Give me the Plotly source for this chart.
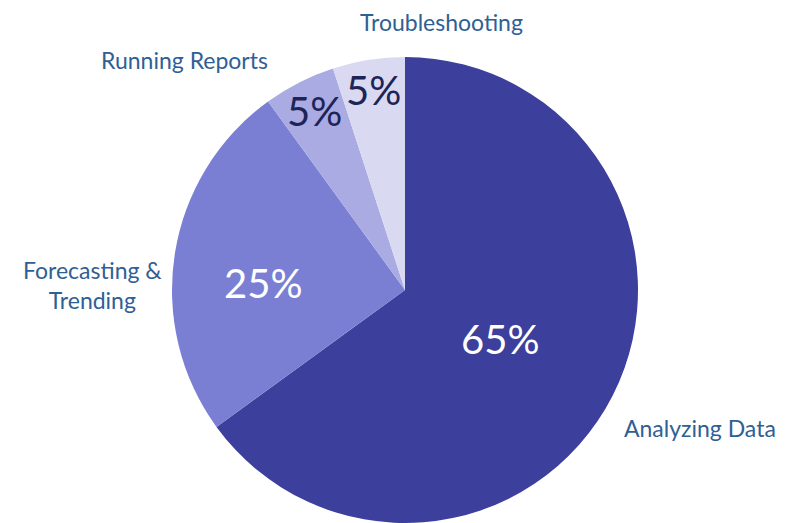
import math
import plotly.graph_objects as go

categories = ["Analyzing Data", "Forecasting &<br>Trending", "Running Reports", "Troubleshooting"]
values = [65, 25, 5, 5]

colors = ["#3C3F9C", "#7B7FD4", "#A9ABE2", "#D9D9F1"]
pct_colors = ["#FFFFFF", "#FFFFFF", "#1C2458", "#1C2458"]
pct_radius = [0.46, 0.61, 0.86, 0.87]
pct_angle_shift = [0, -6, 0, 0]

W, H = 788, 523
OFF = 8  # page body margin offset of the html page
PCX, PCY, PR = 405 - OFF, 290 - OFF, 233

dom_x = [(PCX - PR) / W, (PCX + PR) / W]
dom_y = [1 - (PCY + PR) / H, 1 - (PCY - PR) / H]

fig = go.Figure(go.Pie(
    labels=categories,
    values=values,
    sort=False,
    direction="clockwise",
    rotation=0,
    marker=dict(colors=colors, line=dict(width=0)),
    textinfo="none",
    hoverinfo="label+percent",
    showlegend=False,
    domain=dict(x=dom_x, y=dom_y),
))

pw = (dom_x[1] - dom_x[0]) * W
ph = (dom_y[1] - dom_y[0]) * H
R = min(pw, ph) / 2
cx = (dom_x[0] + dom_x[1]) / 2 * W
cy = (1 - (dom_y[0] + dom_y[1]) / 2) * H

total = sum(values)
cum = 0
annotations = []
for i, v in enumerate(values):
    mid = (cum + v / 2) / total * 360 + pct_angle_shift[i]
    cum += v
    th = math.radians(mid)
    r = R * pct_radius[i]
    px = cx + r * math.sin(th)
    py = cy - r * math.cos(th)
    annotations.append(dict(
        x=px / W, y=1 - py / H, xref="paper", yref="paper",
        text=f"{round(v / total * 100)}%", showarrow=False,
        font=dict(family="Lato, Open Sans, sans-serif", size=40, color=pct_colors[i]),
        xanchor="center", yanchor="middle",
    ))

label_pos = [(700, 428), (92, 285), (184, 60), (441, 22)]
for name, (lx, ly) in zip(categories, label_pos):
    annotations.append(dict(
        x=(lx - OFF) / W, y=1 - (ly - OFF) / H, xref="paper", yref="paper",
        text=name, showarrow=False, align="center", borderpad=0,
        font=dict(family="Lato, Open Sans, sans-serif", size=23, color="#2F6094"),
        xanchor="center", yanchor="middle",
    ))

fig.update_layout(
    width=W, height=H,
    margin=dict(l=0, r=0, t=0, b=0),
    paper_bgcolor="white",
    plot_bgcolor="white",
    annotations=annotations,
)

fig.write_html("out.html")
